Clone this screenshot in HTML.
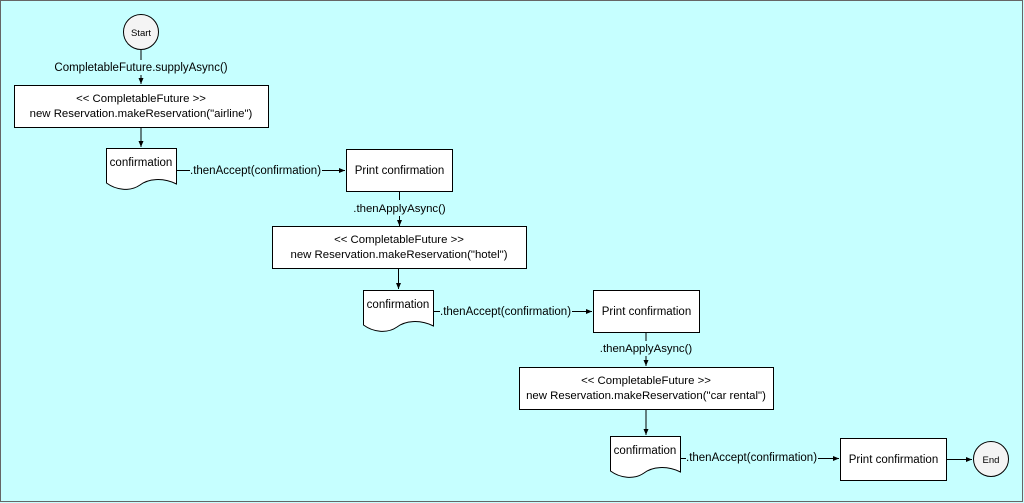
<!DOCTYPE html>
<html><head><meta charset="utf-8"><style>
html,body{margin:0;padding:0;width:1024px;height:503px;overflow:hidden;background:#c6ffff}
svg{display:block}
text{font-family:"Liberation Sans",sans-serif;font-size:11.4px;fill:#000}
</style></head><body>
<svg width="1024" height="503" viewBox="0 0 1024 503">
<defs>
<marker id="a" markerWidth="8" markerHeight="8" refX="7" refY="4" orient="auto" markerUnits="userSpaceOnUse"><path d="M1,1.5 L7,4 L1,6.5 Z" fill="#000"/></marker>
<g id="box">
  <rect x="14.5" y="85.5" width="254" height="42" fill="#fff" stroke="#000"/>
  <text x="141" y="102" text-anchor="middle">&lt;&lt; CompletableFuture &gt;&gt;</text>
</g>
<g id="doc">
  <path d="M106.5,148.5 H176.5 V184 C162,177 148,179 140,185 C130,192 116,190 106.5,183 Z" fill="#fff" stroke="#000"/>
  <text x="141" y="166" text-anchor="middle" style="font-size:11.5px">confirmation</text>
</g>
<g id="lab">
  <text x="190" y="174" style="font-size:11.5px">.thenAccept(confirmation)</text>
</g>
<g id="pr">
  <rect x="346.5" y="149.5" width="106" height="42" fill="#fff" stroke="#000"/>
  <text x="399.5" y="174" text-anchor="middle" style="font-size:11.5px">Print confirmation</text>
</g>
</defs>
<rect x="0.5" y="0.5" width="1022" height="501" fill="#c6ffff" stroke="#666"/>
<circle cx="141" cy="32" r="17.5" fill="#f4f4f4" stroke="#000"/>
<text x="141" y="36" text-anchor="middle" style="font-size:9.5px">Start</text>
<line x1="141" y1="50" x2="141" y2="60" stroke="#000"/>
<text x="141" y="71" text-anchor="middle" style="font-size:11.5px">CompletableFuture.supplyAsync()</text>
<line x1="141" y1="75" x2="141" y2="84" stroke="#000" marker-end="url(#a)"/>

<use href="#box"/>
<text x="141" y="117" text-anchor="middle">new Reservation.makeReservation("airline")</text>
<line x1="141" y1="128" x2="141" y2="147" stroke="#000" marker-end="url(#a)"/>
<use href="#doc"/>
<line x1="177" y1="170.5" x2="190" y2="170.5" stroke="#000"/>
<use href="#lab"/>
<line x1="322" y1="170.5" x2="345" y2="170.5" stroke="#000" marker-end="url(#a)"/>
<use href="#pr"/>

<line x1="399.5" y1="192" x2="399.5" y2="200" stroke="#000"/>
<text x="399.5" y="212" text-anchor="middle">.thenApplyAsync()</text>
<line x1="399.5" y1="216" x2="399.5" y2="226" stroke="#000" marker-end="url(#a)"/>

<g transform="translate(258,141)"><use href="#box"/></g>
<text x="399" y="258" text-anchor="middle">new Reservation.makeReservation("hotel")</text>
<line x1="398.5" y1="269" x2="398.5" y2="289" stroke="#000" marker-end="url(#a)"/>
<g transform="translate(257,142)"><use href="#doc"/></g>
<line x1="434" y1="311.5" x2="440" y2="311.5" stroke="#000"/>
<g transform="translate(250,141)"><use href="#lab"/></g>
<line x1="572" y1="311.5" x2="592" y2="311.5" stroke="#000" marker-end="url(#a)"/>
<g transform="translate(247,141)"><use href="#pr"/></g>

<line x1="646" y1="333" x2="646" y2="341" stroke="#000"/>
<text x="646" y="352" text-anchor="middle">.thenApplyAsync()</text>
<line x1="646" y1="356" x2="646" y2="366" stroke="#000" marker-end="url(#a)"/>

<g transform="translate(505,282)"><use href="#box"/></g>
<text x="646" y="399" text-anchor="middle">new Reservation.makeReservation("car rental")</text>
<line x1="646" y1="410" x2="646" y2="435" stroke="#000" marker-end="url(#a)"/>
<g transform="translate(504,288)"><use href="#doc"/></g>
<line x1="681" y1="458.5" x2="686" y2="458.5" stroke="#000"/>
<g transform="translate(496,287)"><use href="#lab"/></g>
<line x1="818" y1="458.5" x2="839" y2="458.5" stroke="#000" marker-end="url(#a)"/>
<g transform="translate(494,289)"><use href="#pr"/></g>

<line x1="947" y1="459.5" x2="972" y2="459.5" stroke="#000" marker-end="url(#a)"/>
<circle cx="991" cy="459" r="17.5" fill="#f4f4f4" stroke="#000"/>
<text x="991" y="463" text-anchor="middle" style="font-size:9.5px">End</text>
</svg>
</body></html>
